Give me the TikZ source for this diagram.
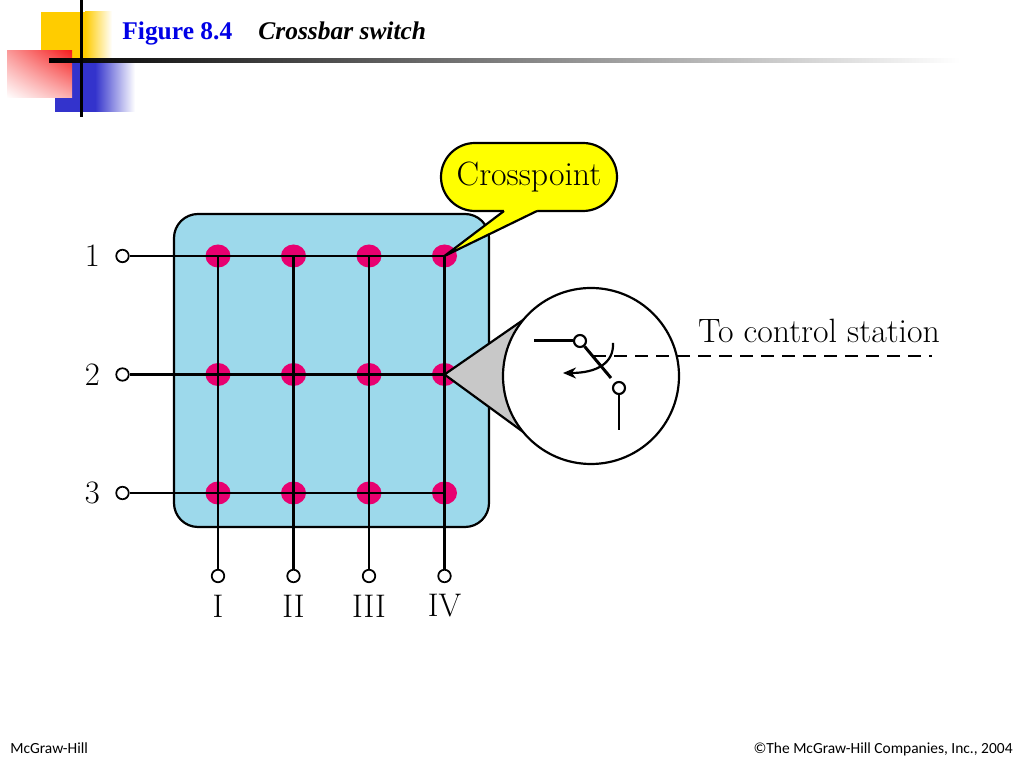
\documentclass[tikz,border=0pt]{standalone}
\usepackage{fontspec}
\newfontfamily\titlefont{Liberation Serif}
\newfontfamily\footfont{Carlito}
\usepackage{tikz}
\usetikzlibrary{arrows.meta, positioning, shapes.geometric, shapes.misc, shadings}
\definecolor{panelblue}{RGB}{157,217,235}
\definecolor{xpink}{RGB}{232,0,112}
\definecolor{calloutyellow}{RGB}{255,255,0}
\definecolor{conegray}{RGB}{200,200,200}
\definecolor{barblue}{RGB}{51,51,204}
\definecolor{baryellow}{RGB}{255,204,0}
\definecolor{barred}{RGB}{245,30,30}
\definecolor{titleblue}{RGB}{0,0,230}
\tikzset{
    wire/.style={line width=1.25pt},
    lever/.style={line width=1.7pt},
    panel/.style={rectangle, draw, fill=panelblue, line width=1.25pt, rounded corners=4.8mm,
        minimum width=63mm, minimum height=62.6mm},
    xpoint/.style={ellipse, fill=xpink, minimum width=5mm, minimum height=4.6mm, inner sep=0pt},
    terminal/.style={circle, draw, fill=white, line width=1pt, minimum size=2.5mm, inner sep=0pt},
    contact/.style={circle, draw, fill=white, line width=1.2pt, minimum size=2.4mm, inner sep=0pt},
    lbl/.style={inner sep=0pt, font=\fontsize{18.6}{21}\selectfont},
    txt/.style={inner sep=0pt, font=\fontsize{19.2}{22}\selectfont},
    foot/.style={inner sep=0pt, font=\footfont\fontsize{8.8}{10}\selectfont}
}

\begin{document}
\begin{tikzpicture}[x=0.2mm, y=-0.2mm, on grid]
    \useasboundingbox (0,0) rectangle (1024,768);
    \fill[white] (0,0) rectangle (1024,768);

    % slide header
    \fill[baryellow] (41,12) rectangle (85,62);
    \shade[left color=baryellow, right color=white] (85,12) rectangle (112,62);
    \fill[barblue] (55,62) rectangle (95,112);
    \shade[left color=barblue, right color=white] (95,62) rectangle (135,112);
    \shade[upper right=barred, upper left=barred!45, lower right=barred!35, lower left=white]
        (7,51) rectangle (72,98);
    \shade[left color=black, right color=white] (49,59) rectangle (960,63);
    \fill[black] (79.5,0) rectangle (83,117);
    \node (title) [anchor=base west, inner sep=0pt, text=titleblue,
        font=\titlefont\bfseries\fontsize{14.5}{17}\selectfont] at (122,40) {Figure 8.4};
    \node (subtitle) [anchor=base west, inner sep=0pt,
        font=\titlefont\bfseries\itshape\fontsize{14.5}{17}\selectfont] at (258,40) {Crossbar switch};

    % crossbar
    \node (panel) [panel] at (331.5,370.5) {};

    \node (x11) [xpoint] at (218,256) {};
    \node (x12) [xpoint, right=15.1mm of x11] {};
    \node (x13) [xpoint, right=15.1mm of x12] {};
    \node (x14) [xpoint, right=15.1mm of x13] {};
    \node (x21) [xpoint, below=23.7mm of x11] {};
    \node (x22) [xpoint, right=15.1mm of x21] {};
    \node (x23) [xpoint, right=15.1mm of x22] {};
    \node (x24) [xpoint, right=15.1mm of x23] {};
    \node (x31) [xpoint, below=23.7mm of x21] {};
    \node (x32) [xpoint, right=15.1mm of x31] {};
    \node (x33) [xpoint, right=15.1mm of x32] {};
    \node (x34) [xpoint, right=15.1mm of x33] {};

    \node (in1) [terminal, left=19.1mm of x11] {};
    \node (in2) [terminal, left=19.1mm of x21] {};
    \node (in3) [terminal, left=19.1mm of x31] {};
    \node (out1) [terminal, below=16.6mm of x31] {};
    \node (out2) [terminal, below=16.6mm of x32] {};
    \node (out3) [terminal, below=16.6mm of x33] {};
    \node (out4) [terminal, below=16.6mm of x34] {};

    \node (lin1) [lbl, left=6mm of in1] {1};
    \node (lin2) [lbl, left=6mm of in2] {2};
    \node (lin3) [lbl, left=6mm of in3] {3};
    \node (lout1) [lbl, below=6mm of out1] {I};
    \node (lout2) [lbl, below=6mm of out2] {II};
    \node (lout3) [lbl, below=6mm of out3] {III};
    \node (lout4) [lbl, below=6mm of out4] {IV};

    \draw[wire]
        (in1) -- (x14.center)
        (in2) -- (x24.center)
        (in3) -- (x34.center)
        (x11.center) -- (out1)
        (x12.center) -- (out2)
        (x13.center) -- (out3)
        (x14.center) -- (out4)
        ;

    % callout
    \node (cp) [rounded rectangle, draw, fill=calloutyellow, line width=1.25pt, txt,
        minimum width=35.2mm, minimum height=13.6mm] at (529,177) {Crosspoint};
    \coordinate (pl) at (504,211);
    \coordinate (pr) at (537,211);
    \fill[calloutyellow] (504,205) -- (pl) -- (x14.center) -- (pr) -- (537,205) -- cycle;
    \draw[wire] (pl) -- (x14.center) -- (pr);

    % magnified crosspoint
    \coordinate (lc) at (591,376);
    \coordinate (ct) at (526,318);
    \coordinate (cb) at (526,434);
    \fill[conegray] (x24.center) -- (ct) -- (lc) -- (cb) -- cycle;
    \draw[wire] (ct) -- (x24.center) -- (cb);
    \node (lens) [circle, draw, fill=white, wire, minimum size=35.2mm, inner sep=0pt] at (lc) {};

    \node (sa) [contact] at (580,341) {};
    \node (sb) [contact] at (619,388) {};
    \coordinate (sw) at (534,341);
    \coordinate (sl) at (611,378);
    \coordinate (sv) at (619,430);
    \draw[lever] (sw) -- (sa);
    \draw[lever] (sa) -- (sl);
    \draw[lever] (sb) -- (sv);

    \coordinate (ra) at (613,343);
    \coordinate (rb) at (563,373);
    \draw[wire, -{Stealth[length=2.6mm, width=2.2mm]}]
        (ra) .. controls (614,363) and (597,373) .. (rb);

    \coordinate (da) at (593,356);
    \coordinate (db) at (932,356);
    \draw[line width=1pt, dash pattern=on 2.6mm off 1.6mm] (da) -- (db);
    \node (tcs) [txt, anchor=base] at (819,343) {To control station};

    % footer
    \node (fl) [foot, anchor=base west] at (10,754) {McGraw-Hill};
    \node (fr) [foot, anchor=base east] at (1013,754) {©The McGraw-Hill Companies, Inc., 2004};
\end{tikzpicture}
\end{document}
